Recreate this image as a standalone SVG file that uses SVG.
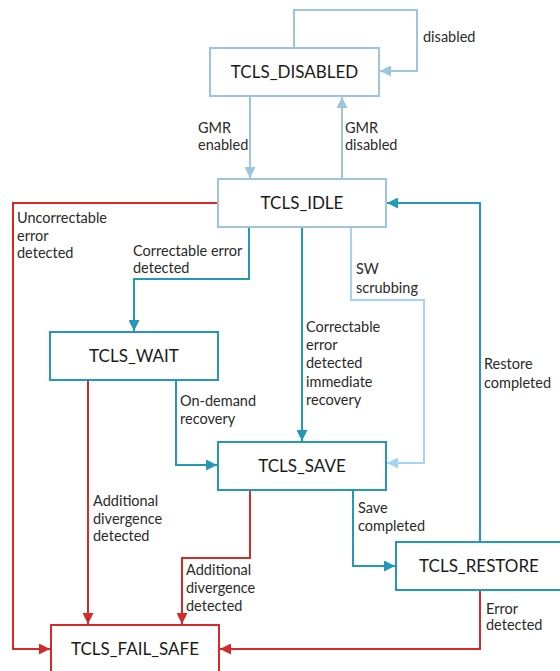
<svg xmlns="http://www.w3.org/2000/svg" width="560" height="671" viewBox="0 0 560 671">
<defs>
<style>
.box{fill:#fff;stroke-width:2}
.lb{stroke:#9cc6dd}
.tl{stroke:#2398b8}
.rd{stroke:#d42a2a}
.nt{font-family:Lato,"Liberation Sans",sans-serif;font-size:17px;fill:#1a1a1a;text-anchor:middle}
.lt{font-family:Lato,"Liberation Sans",sans-serif;font-size:14.5px;fill:#2a2a2a}
.c{fill:none;stroke-width:2}
.cl{stroke:#9cc6dd}
.cs{stroke:#a6d3f5}
.ct{stroke:#2398b8}
.cr{stroke:#d42a2a}
</style>
<marker id="mL" viewBox="0 0 10 10" refX="10" refY="5" markerWidth="11" markerHeight="11" markerUnits="userSpaceOnUse" orient="auto"><path d="M0,0 L10,5 L0,10 z" fill="#9cc6dd"/></marker>
<marker id="mS" viewBox="0 0 10 10" refX="10" refY="5" markerWidth="11" markerHeight="11" markerUnits="userSpaceOnUse" orient="auto"><path d="M0,0 L10,5 L0,10 z" fill="#a6d3f5"/></marker>
<marker id="mT" viewBox="0 0 10 10" refX="10" refY="5" markerWidth="11" markerHeight="11" markerUnits="userSpaceOnUse" orient="auto"><path d="M0,0 L10,5 L0,10 z" fill="#2398b8"/></marker>
<marker id="mR" viewBox="0 0 10 10" refX="10" refY="5" markerWidth="11" markerHeight="11" markerUnits="userSpaceOnUse" orient="auto"><path d="M0,0 L10,5 L0,10 z" fill="#d42a2a"/></marker>
</defs>
<rect width="560" height="671" fill="#fff"/>
<g id="connectors">
<path class="c cl" d="M294,48 V10 H417 V71 H380" marker-end="url(#mL)"/>
<path class="c cl" d="M250,96 V178" marker-end="url(#mL)"/>
<path class="c cl" d="M342,179 V97" marker-end="url(#mL)"/>
<path class="c cr" d="M218,203 H13 V649 H50" marker-end="url(#mR)"/>
<path class="c ct" d="M249,227 V279 H134 V331" marker-end="url(#mT)"/>
<path class="c ct" d="M302,227 V441" marker-end="url(#mT)"/>
<path class="c cs" d="M351,227 V300 H424 V463 H387" marker-end="url(#mS)"/>
<path class="c ct" d="M176,380 V465 H217" marker-end="url(#mT)"/>
<path class="c cr" d="M88,380 V624" marker-end="url(#mR)"/>
<path class="c cr" d="M250,490 V558 H182 V624" marker-end="url(#mR)"/>
<path class="c ct" d="M353,490 V566 H395" marker-end="url(#mT)"/>
<path class="c ct" d="M480,542 V203 H387" marker-end="url(#mT)"/>
<path class="c cr" d="M480,590 V649 H220" marker-end="url(#mR)"/>
</g>
<g id="labels">
<text class="lt" x="423" y="42">disabled</text>
<text class="lt" x="198" y="133">GMR</text>
<text class="lt" x="198" y="150">enabled</text>
<text class="lt" x="345" y="133">GMR</text>
<text class="lt" x="345" y="150">disabled</text>
<text class="lt" x="17" y="223">Uncorrectable</text>
<text class="lt" x="17" y="241">error</text>
<text class="lt" x="17" y="258">detected</text>
<text class="lt" x="133" y="256">Correctable error</text>
<text class="lt" x="133" y="273">detected</text>
<text class="lt" x="356" y="274">SW</text>
<text class="lt" x="356" y="293">scrubbing</text>
<text class="lt" x="306" y="332">Correctable</text>
<text class="lt" x="306" y="350">error</text>
<text class="lt" x="306" y="368">detected</text>
<text class="lt" x="306" y="387">immediate</text>
<text class="lt" x="306" y="405">recovery</text>
<text class="lt" x="484" y="369">Restore</text>
<text class="lt" x="484" y="388">completed</text>
<text class="lt" x="180" y="406">On-demand</text>
<text class="lt" x="180" y="424">recovery</text>
<text class="lt" x="93" y="506">Additional</text>
<text class="lt" x="93" y="524">divergence</text>
<text class="lt" x="93" y="541">detected</text>
<text class="lt" x="358" y="513">Save</text>
<text class="lt" x="358" y="531">completed</text>
<text class="lt" x="186" y="575">Additional</text>
<text class="lt" x="186" y="593">divergence</text>
<text class="lt" x="186" y="611">detected</text>
<text class="lt" x="486" y="614">Error</text>
<text class="lt" x="486" y="630">detected</text>
</g>
<g id="TCLS_DISABLED"><rect class="box lb" x="210" y="48" width="169" height="48"/><text class="nt" x="294.5" y="78">TCLS_DISABLED</text></g>
<g id="TCLS_IDLE"><rect class="box lb" x="218" y="179" width="168" height="48"/><text class="nt" x="302" y="209">TCLS_IDLE</text></g>
<g id="TCLS_WAIT"><rect class="box tl" x="50" y="332" width="168" height="48"/><text class="nt" x="134" y="362">TCLS_WAIT</text></g>
<g id="TCLS_SAVE"><rect class="box tl" x="218" y="442" width="168" height="48"/><text class="nt" x="302" y="472">TCLS_SAVE</text></g>
<g id="TCLS_RESTORE"><rect class="box tl" x="396" y="542" width="166" height="48"/><text class="nt" x="479" y="572">TCLS_RESTORE</text></g>
<g id="TCLS_FAIL_SAFE"><rect class="box rd" x="51" y="625" width="168" height="47"/><text class="nt" x="135" y="655">TCLS_FAIL_SAFE</text></g>
</svg>
